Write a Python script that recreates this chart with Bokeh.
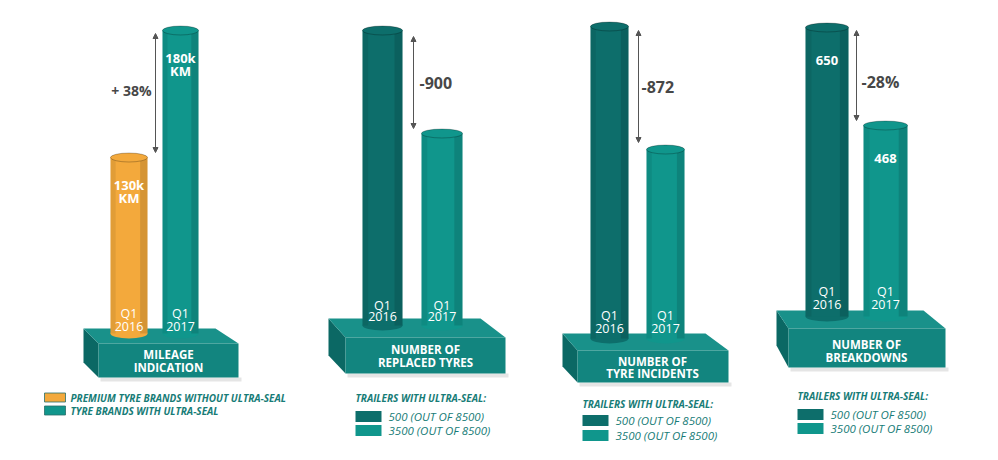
from bokeh.plotting import figure
from bokeh.models import Range1d, Arrow, NormalHead
from bokeh.core.properties import value
from bokeh.embed import file_html
from bokeh.resources import INLINE

# ---------------- data ----------------
panel_titles = [("MILEAGE", "INDICATION"), ("NUMBER OF", "REPLACED TYRES"),
                ("NUMBER OF", "TYRE INCIDENTS"), ("NUMBER OF", "BREAKDOWNS")]
quarters = ["Q1", "Q1"]
years = ["2016", "2017"]
mileage_k_km = [130, 180]
breakdowns = [650, 468]
changes = ["+ 38%", "-900", "-872", "-28%"]
# drawn (unscaled infographic) bar heights, 2016 and 2017, per panel
drawn_2016 = [176, 295, 312, 289]
drawn_2017 = [303, 192, 189, 191]
mileage_legend = ["PREMIUM TYRE BRANDS WITHOUT ULTRA-SEAL", "TYRE BRANDS WITH ULTRA-SEAL"]
trailer_title = "TRAILERS WITH ULTRA-SEAL:"
trailer_counts = ["500 (OUT OF 8500)", "3500 (OUT OF 8500)"]

# ---------------- styles ----------------
FONT = value("Open Sans")
ORANGE = "#F3A93C"
TEAL = "#10968C"
DARK = "#0D6E6B"
P_TOP = "#19918A"
P_FRONT = "#12857F"
P_SIDE = "#0B6864"
GREY = "#474747"
LEG = "#177C77"

layout = [
    dict(base=333, cx=(128.5, 180.0), w=(37, 36), pl=(83, 215, 238, 98, 328, 343, 377, 362),
         arrow=(155, 33, 152), chg=(151, 90, "right"), tx=168, ty=(354, 367), qy=(313, 326)),
    dict(base=325, cx=(382.0, 441.5), w=(40, 41), pl=(328, 480, 505, 345, 318, 337, 373, 355),
         arrow=(413, 36, 128), chg=(419, 82, "left"), tx=425, ty=(349, 362), qy=(305, 316)),
    dict(base=338, cx=(609.0, 665.0), w=(38, 38), pl=(562, 705, 728, 577, 333, 350, 382, 366),
         arrow=(638, 30, 142), chg=(641, 86, "left"), tx=652, ty=(361, 373), qy=(315, 328)),
    dict(base=316, cx=(826.5, 885.0), w=(43, 44), pl=(776, 923, 945, 788, 310, 328, 367, 345),
         arrow=(856, 30, 120), chg=(861, 81, "left"), tx=866, ty=(344, 357), qy=(291, 304)),
]

p = figure(width=982, height=444, x_range=Range1d(0, 982), y_range=Range1d(444, 0),
           output_backend="svg", toolbar_location=None, x_axis_type=None, y_axis_type=None,
           min_border=0)
p.grid.visible = False
p.outline_line_color = None
p.background_fill_color = "white"
p.border_fill_color = "white"


def txt(x, y, s, size, color, style="normal", align="center"):
    p.text(x=[x], y=[y], text=[s], text_font=FONT, text_font_size=f"{size}px",
           text_font_style=style, text_color=color, text_align=align, text_baseline="middle")


def cylinder(cx, w, top, bottom, color):
    l, r = cx - w / 2, cx + w / 2
    p.ellipse(x=[cx], y=[bottom], width=[w], height=[10], fill_color=color, line_color=None)
    p.quad(left=[l], right=[r], top=[top], bottom=[bottom], fill_color=color, line_color=None)
    p.quad(left=[l], right=[l + w * 0.14], top=[top], bottom=[bottom], fill_color="black",
           fill_alpha=0.07, line_color=None)
    p.quad(left=[r - w * 0.2], right=[r], top=[top], bottom=[bottom], fill_color="black",
           fill_alpha=0.12, line_color=None)
    p.ellipse(x=[cx], y=[top], width=[w], height=[9], fill_color=color, line_color="black",
              line_alpha=0.25, line_width=1)


for i, L in enumerate(layout):
    tl, tr, fr, fl, ytop, yfront, ybot, yleftbot = L["pl"]
    # shadow
    p.quad(left=[fl + 2], right=[fr + 3], top=[ybot], bottom=[ybot + 4], fill_color="black",
           fill_alpha=0.10, line_color=None)
    # plinth faces
    p.patch(x=[tl, fl, fl, tl], y=[ytop, yfront, ybot, yleftbot], fill_color=P_SIDE, line_color=None)
    p.patch(x=[tl, tr, fr, fl], y=[ytop, ytop, yfront, yfront], fill_color=P_TOP, line_color=None)
    p.quad(left=[fl], right=[fr], top=[yfront], bottom=[ybot], fill_color=P_FRONT, line_color=None)

    heights = [drawn_2016[i], drawn_2017[i]]
    colors = [ORANGE, TEAL] if i == 0 else [DARK, TEAL]
    tops = []
    for j in range(2):
        top = L["base"] - heights[j]
        tops.append(top)
        cylinder(L["cx"][j], L["w"][j], top, L["base"], colors[j])
        txt(L["cx"][j], L["qy"][0], quarters[j], 12.5, "white")
        txt(L["cx"][j], L["qy"][1], years[j], 12.5, "white")

    # title on plinth
    txt(L["tx"], L["ty"][0], panel_titles[i][0], 11.5, "white", "bold")
    txt(L["tx"], L["ty"][1], panel_titles[i][1], 11.5, "white", "bold")

    # change arrow & label
    ax, ay0, ay1 = L["arrow"]
    p.add_layout(Arrow(x_start=ax, y_start=ay0, x_end=ax, y_end=ay1, line_color="#555555",
                       line_width=1,
                       start=NormalHead(size=5, fill_color="#555555", line_color="#555555"),
                       end=NormalHead(size=5, fill_color="#555555", line_color="#555555")))
    cx_, cy_, al = L["chg"]
    txt(cx_, cy_, changes[i], 14 if i == 0 else 16, GREY, "bold", al)

    if i == 0:
        for j, v in enumerate(mileage_k_km):
            txt(L["cx"][j], tops[j] + 27, f"{v}k", 13, "white", "bold")
            txt(L["cx"][j], tops[j] + 40, "KM", 13, "white", "bold")
    if i == 3:
        for j, v in enumerate(breakdowns):
            txt(L["cx"][j], tops[j] + 33, f"{v}", 13, "white", "bold")

# legend of panel 1
leg1_y = [397, 410]
for j, s in enumerate(mileage_legend):
    p.quad(left=[44], right=[65], top=[leg1_y[j] - 4.5], bottom=[leg1_y[j] + 4.5],
           fill_color=[ORANGE, TEAL][j], line_color="#2a6f6a", line_width=0.8)
    txt(70, leg1_y[j], s, 10, LEG, "bold italic", "left")

# trailer legends of panels 2-4
trailer_leg = [(355, 397, 416, 430), (582, 403, 420, 435), (797, 395, 414, 428)]
for (lx, ty, y1, y2) in trailer_leg:
    txt(lx, ty, trailer_title, 10, LEG, "bold italic", "left")
    for j, yy in enumerate((y1, y2)):
        p.quad(left=[lx], right=[lx + 26], top=[yy - 5.5], bottom=[yy + 5.5],
               fill_color=[DARK, TEAL][j], line_color=None)
        txt(lx + 33, yy, trailer_counts[j], 11.5, LEG, "italic", "left")

open("out.html", "w").write(file_html(p, INLINE))
